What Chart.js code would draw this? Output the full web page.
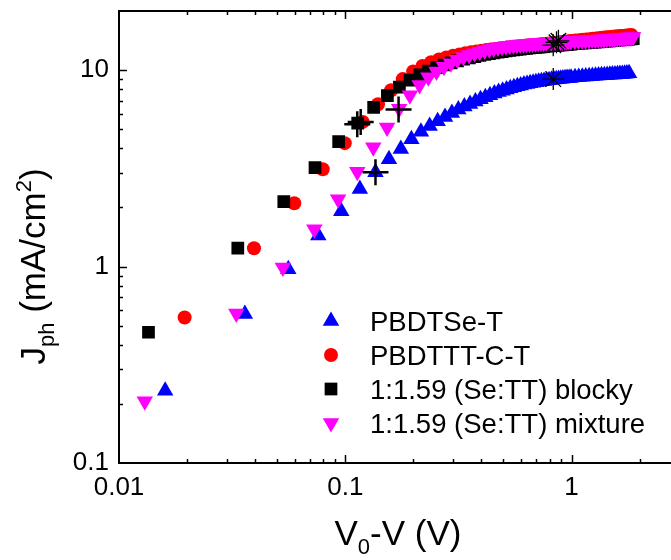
<!DOCTYPE html>
<html>
<head>
<meta charset="utf-8">
<script src="https://cdn.jsdelivr.net/npm/chart.js@4.4.1/dist/chart.umd.min.js"></script>
<style>
  html, body { margin:0; padding:0; background:#fff; overflow:hidden; }
  #wrap { width:671px; height:560px; overflow:hidden; }
  #box { width:700px; height:560px; }
</style>
</head>
<body>
<div id="wrap"><div id="box"><canvas id="jv-chart" width="700" height="560"></canvas></div></div>
<script>
// ------------------------------------------------------------
// Jph vs V0-V, log-log
// ------------------------------------------------------------

var xTickValues = [0.01, 0.1, 1];
var xTickLabels = ['0.01', '0.1', '1'];
var xMinorTicks = [0.02,0.03,0.04,0.05,0.06,0.07,0.08,0.09,0.2,0.3,0.4,0.5,0.6,0.7,0.8,0.9,2,3];
var yTickValues = [0.1, 1, 10];
var yTickLabels = ['0.1', '1', '10'];
var yMinorTicks = [0.2,0.3,0.4,0.5,0.6,0.7,0.8,0.9,2,3,4,5,6,7,8,9];

var seriesNames = ['PBDTSe-T', 'PBDTTT-C-T', '1:1.59 (Se:TT) blocky', '1:1.59 (Se:TT) mixture'];

// PBDTSe-T
var seX = [0.016,0.036,0.056,0.076,0.096,0.116,0.136,0.156,0.176,0.196,0.216,0.236,0.256,0.276,0.296,0.316,0.336,0.356,0.376,0.396,
  0.416,0.436,0.456,0.476,0.496,0.516,0.536,0.556,0.576,0.596,0.616,0.636,0.656,0.676,0.696,0.716,0.736,0.756,0.776,0.796,
  0.816,0.836,0.856,0.876,0.896,0.916,0.936,0.956,0.976,0.996,
  1.036,1.076,1.116,1.156,1.196,1.236,1.276,1.316,1.356,1.396,1.436,1.476,1.516,1.556,1.596,1.636,1.676,1.716,1.756,1.796];
var seY = [0.233,0.573,0.97,1.44,1.91,2.48,3.02,3.52,3.97,4.45,4.85,5.2,5.5,5.78,6.05,6.3,6.52,6.72,6.92,7.1,
  7.28,7.45,7.6,7.74,7.86,7.98,8.09,8.19,8.28,8.36,8.44,8.51,8.57,8.63,8.68,8.73,8.77,8.81,8.85,8.89,
  8.93,8.96,8.99,9.02,9.05,9.07,9.09,9.11,9.13,9.15,
  9.19,9.22,9.25,9.28,9.31,9.34,9.37,9.39,9.41,9.43,9.45,9.47,9.49,9.51,9.53,9.55,9.57,9.59,9.61,9.63];

// PBDTTT-C-T
var ttX = [0.0195,0.0395,0.0595,0.0795,0.0995,0.1195,0.1395,0.1595,0.1795,0.1995,0.2195,0.2395,0.2595,0.2795,0.2995,0.3195,0.3395,0.3595,0.3795,0.3995,
  0.4195,0.4395,0.4595,0.4795,0.4995,0.5195,0.5395,0.5595,0.5795,0.5995,0.6195,0.6395,0.6595,0.6795,0.6995,0.7195,0.7395,0.7595,0.7795,0.7995,
  0.8195,0.8395,0.8595,0.8795,0.8995,0.9195,0.9395,0.9595,0.9795,0.9995,
  1.0395,1.0795,1.1195,1.1595,1.1995,1.2395,1.2795,1.3195,1.3595,1.3995,1.4395,1.4795,1.5195,1.5595,1.5995,1.6395,1.6795,1.7195,1.7595,1.7995,1.8395];
var ttY = [0.55,1.24,2.1,3.13,4.25,5.45,6.7,7.9,9.0,9.85,10.5,10.98,11.33,11.6,11.83,12.02,12.18,12.32,12.44,12.55,
  12.65,12.74,12.82,12.9,12.97,13.03,13.09,13.15,13.2,13.25,13.3,13.35,13.39,13.43,13.47,13.51,13.55,13.59,13.63,13.67,
  13.71,13.75,13.79,13.83,13.87,13.91,13.95,13.99,14.03,14.07,
  14.14,14.2,14.26,14.32,14.38,14.44,14.5,14.55,14.6,14.65,14.7,14.74,14.78,14.82,14.86,14.9,14.94,14.98,15.02,15.06,15.1];

// 1:1.59 blocky
var blockyX = [0.0135,0.0335,0.0535,0.0735,0.0935,0.1135,0.1335,0.1535,0.1735,0.1935,0.2135,0.2335,0.2535,0.2735,0.2935,0.3135,0.3335,0.3535,0.3735,0.3935,
  0.4135,0.4335,0.4535,0.4735,0.4935,0.5135,0.5335,0.5535,0.5735,0.5935,0.6135,0.6335,0.6535,0.6735,0.6935,0.7135,0.7335,0.7535,0.7735,0.7935,
  0.8135,0.8335,0.8535,0.8735,0.8935,0.9135,0.9335,0.9535,0.9735,0.9935,
  1.0335,1.0735,1.1135,1.1535,1.1935,1.2335,1.2735,1.3135,1.3535,1.3935,1.4335,1.4735,1.5135,1.5535,1.5935,1.6335,1.6735,1.7135,1.7535,1.7935,1.8335,1.8735];
var blockyY = [0.463,1.24,2.14,3.19,4.33,5.38,6.46,7.41,8.2,8.9,9.45,9.9,10.3,10.62,10.9,11.15,11.37,11.56,11.73,11.88,
  12.01,12.13,12.24,12.34,12.43,12.52,12.6,12.67,12.74,12.8,12.86,12.92,12.97,13.02,13.07,13.11,13.15,13.19,13.23,13.27,
  13.31,13.34,13.37,13.4,13.43,13.46,13.49,13.52,13.55,13.58,
  13.63,13.68,13.72,13.76,13.8,13.84,13.88,13.92,13.96,14.0,14.04,14.08,14.12,14.16,14.2,14.24,14.28,14.32,14.36,14.4,14.44,14.48];

// 1:1.59 mixture
var mixX = [0.013,0.033,0.053,0.073,0.093,0.113,0.133,0.153,0.173,0.193,0.213,0.233,0.253,0.273,0.293,0.313,0.333,0.353,0.373,0.393,
  0.413,0.433,0.453,0.473,0.493,0.513,0.533,0.553,0.573,0.593,0.613,0.633,0.653,0.673,0.693,0.713,0.733,0.753,0.773,0.793,
  0.813,0.833,0.853,0.873,0.893,0.913,0.933,0.953,0.973,0.993,
  1.033,1.073,1.113,1.153,1.193,1.233,1.273,1.313,1.353,1.393,1.433,1.473,1.513,1.553,1.593,1.633,1.673,1.713,1.753,1.793,1.833,1.873];
var mixY = [0.206,0.577,0.99,1.55,2.2,3.04,4.05,5.1,6.35,7.45,8.4,9.2,9.85,10.4,10.85,11.28,11.65,11.95,12.2,12.42,
  12.6,12.76,12.9,13.02,13.13,13.22,13.3,13.37,13.43,13.49,13.54,13.59,13.63,13.67,13.71,13.74,13.77,13.8,13.83,13.86,
  13.89,13.91,13.93,13.95,13.97,13.99,14.01,14.03,14.05,14.07,
  14.1,14.14,14.17,14.2,14.23,14.26,14.29,14.32,14.35,14.38,14.41,14.44,14.47,14.5,14.53,14.56,14.59,14.62,14.65,14.68,14.71,14.74];

// marked points: "+" (max power) and "*" (near 0.85 V)
var plusX = [0.113, 0.117, 0.136, 0.172];
var plusY = [5.3, 5.45, 3.02, 6.3];
var starX = [0.83, 0.83, 0.858, 0.875];
var starY = [9.0, 13.4, 13.85, 14.1];

function pts(xs, ys) {
  return xs.map(function(x, i) { return { x: x, y: ys[i] }; });
}

var FONT = '"Liberation Sans", Arial, sans-serif';

var markerStyles = [
  { pointStyle:'triangle', rotation:0,   radius:9.5, color:'#0000ff' },
  { pointStyle:'circle',   rotation:0,   radius:7,   color:'#ff0000' },
  { pointStyle:'rect',     rotation:0,   radius:9,   color:'#000000' },
  { pointStyle:'triangle', rotation:180, radius:9.5, color:'#ff00ff' }
];

function markerSet(label, data, m, order) {
  return {
    label: label, data: data, order: order, showLine: false,
    pointStyle: m.pointStyle, pointRotation: m.rotation, pointRadius: m.radius,
    pointBackgroundColor: m.color, pointBorderColor: m.color, pointBorderWidth: 0,
    pointHoverRadius: m.radius
  };
}

var framePlugin = {
  id: 'frame',
  afterDraw: function(chart) {
    var ctx = chart.ctx, a = chart.chartArea;
    var xs = chart.scales.x, ys = chart.scales.y;
    ctx.save();
    ctx.strokeStyle = '#000';
    ctx.lineWidth = 2;
    ctx.beginPath();
    ctx.moveTo(a.left - 1, a.top); ctx.lineTo(a.right + 1, a.top);
    ctx.stroke();

    ctx.lineWidth = 1.5;
    ctx.beginPath();
    function xt(v, len) {
      var p = Math.round(xs.getPixelForValue(v)) + 0.5;
      ctx.moveTo(p, a.bottom); ctx.lineTo(p, a.bottom - len);
      ctx.moveTo(p, a.top); ctx.lineTo(p, a.top + len);
    }
    function yt(v, len) {
      var p = Math.round(ys.getPixelForValue(v)) + 0.5;
      ctx.moveTo(a.left, p); ctx.lineTo(a.left + len, p);
    }
    xTickValues.forEach(function(v) { if (v > xs.min) xt(v, 8); });
    xMinorTicks.forEach(function(v) { xt(v, 4); });
    yTickValues.forEach(function(v) { if (v > ys.min) yt(v, 8); });
    yMinorTicks.forEach(function(v) { yt(v, 4); });
    ctx.stroke();

    // legend
    var lx = 331, ly = [321, 355, 389, 423], tx = 370;
    ctx.font = '27.5px ' + FONT;
    ctx.textBaseline = 'alphabetic';
    ctx.textAlign = 'left';
    seriesNames.forEach(function(name, i) {
      var m = markerStyles[i];
      ctx.fillStyle = m.color;
      Chart.helpers.drawPoint(ctx, { pointStyle: m.pointStyle, rotation: m.rotation, radius: m.radius, borderWidth: 0 }, lx, ly[i]);
      ctx.fillStyle = '#000';
      ctx.fillText(name, tx, ly[i] + 10);
    });

    // axis titles with sub/superscripts
    function runs(parts) {
      var w = 0;
      parts.forEach(function(p) { ctx.font = p[1] + 'px ' + FONT; p.w = ctx.measureText(p[0]).width; w += p.w; });
      return w;
    }
    function drawRuns(parts, x0, y0) {
      var x = x0;
      parts.forEach(function(p) {
        ctx.font = p[1] + 'px ' + FONT;
        ctx.fillText(p[0], x, y0 + p[2]);
        x += p.w;
      });
    }
    ctx.fillStyle = '#000';
    var xParts = [['V', 35, 0], ['0', 22, 9], ['-V (V)', 35, 0]];
    var wX = runs(xParts);
    drawRuns(xParts, 398 - wX / 2, 545);

    var yParts = [['J', 35, 0], ['ph', 22, 9], [' (mA/cm', 35, 0], ['2', 22, -14], [')', 35, 0]];
    var wY = runs(yParts);
    ctx.translate(45, 266.5);
    ctx.rotate(-Math.PI / 2);
    drawRuns(yParts, -wY / 2, 0);
    ctx.restore();
  }
};

var datasets = [
  { label:'star', data: pts(starX, starY), order: 0, showLine:false, pointStyle:'star', pointRadius:11,
    pointBorderColor:'#000', pointBackgroundColor:'#000', pointBorderWidth:1.3 },
  { label:'plus', data: pts(plusX, plusY), order: 1, showLine:false, pointStyle:'cross', pointRadius:13,
    pointBorderColor:'#000', pointBackgroundColor:'#000', pointBorderWidth:2.5 },
  markerSet(seriesNames[3], pts(mixX, mixY), markerStyles[3], 2),
  markerSet(seriesNames[2], pts(blockyX, blockyY), markerStyles[2], 3),
  markerSet(seriesNames[1], pts(ttX, ttY), markerStyles[1], 4),
  markerSet(seriesNames[0], pts(seX, seY), markerStyles[0], 5)
];

new Chart(document.getElementById('jv-chart').getContext('2d'), {
  type: 'scatter',
  data: { datasets: datasets },
  plugins: [framePlugin],
  options: {
    responsive: false, animation: false,
    layout: { autoPadding: false, padding: { top: 11, right: 20.5, left: 0, bottom: 0 } },
    plugins: { legend: { display: false }, tooltip: { enabled: false } },
    scales: {
      x: {
        type: 'logarithmic', min: 0.01, max: 3,
        grid: { display: false, drawTicks: false },
        border: { display: true, color: '#000', width: 2 },
        ticks: { color: '#000', font: { family: FONT, size: 26 }, padding: 9, maxRotation: 0, autoSkip: false,
          callback: function(v, i) { return xTickLabels[i]; } },
        afterBuildTicks: function(s) { s.ticks = xTickValues.map(function(v) { return { value: v }; }); },
        afterFit: function(s) { s.height = 97; s.paddingLeft = 0; s.paddingRight = 0; }
      },
      y: {
        type: 'logarithmic', min: 0.1, max: 20,
        grid: { display: false, drawTicks: false },
        border: { display: true, color: '#000', width: 2 },
        ticks: { color: '#000', font: { family: FONT, size: 26, lineHeight: 0.7 }, padding: 10, autoSkip: false,
          callback: function(v, i) { return yTickLabels[i]; } },
        afterBuildTicks: function(s) { s.ticks = yTickValues.map(function(v) { return { value: v }; }); },
        afterFit: function(s) { s.width = 119; s.paddingTop = 0; s.paddingBottom = 0; }
      }
    }
  }
});
</script>
</body>
</html>
